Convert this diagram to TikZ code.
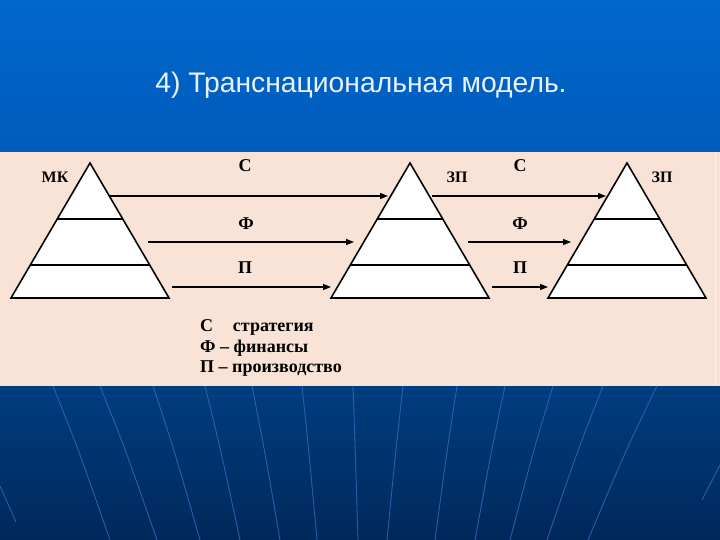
\documentclass[tikz,border=0pt]{standalone}
\usepackage{fontspec}
\setmainfont{Liberation Serif}
\newfontfamily\titlefont{Liberation Sans}
\usetikzlibrary{arrows.meta,calc}
\definecolor{topblue}{HTML}{0067CC}
\definecolor{topblue2}{HTML}{005CBC}
\definecolor{navy1}{HTML}{003D7F}
\definecolor{navy2}{HTML}{00285A}
\definecolor{peach}{HTML}{F9E3D6}
\definecolor{fanline}{HTML}{2F6CC0}
\definecolor{titlecol}{HTML}{E8F2FF}
\tikzset{
  pyr/.style={draw=black, fill=white, line width=1.6pt, line join=miter},
  tier/.style={draw=black, line width=1.6pt},
  flow/.style={draw=black, line width=1.3pt, -{Triangle[length=8pt,width=6pt]}},
  lbl/.style={font=\fontsize{18}{20}\selectfont\bfseries, inner sep=0pt},
  tag/.style={font=\fontsize{16}{18}\selectfont\bfseries, inner sep=0pt},
  legend/.style={font=\fontsize{18}{21}\selectfont\bfseries, inner sep=0pt, anchor=west},
  fan/.style={draw=fanline, line width=0.9pt, opacity=0.8}
}
\begin{document}
\begin{tikzpicture}[x=1pt,y=-1pt]
\useasboundingbox (0,0) rectangle (720,540);
% backgrounds
\shade[top color=topblue, bottom color=topblue2] (0,0) rectangle (720,152);
\shade[top color=navy1, bottom color=navy2] (0,386) rectangle (720,540);
\fill[peach] (0,152) rectangle (720,386);
\draw[white, opacity=0.6, line width=1pt] (715,152) -- (715,386);
% fan lines
\foreach \a/\b in {53/110,100/157,153/200,205/240,252/280,302/317,353/358,403/387,457/435,505/475,553/510,603/547,657/588}{
  \draw[fan] (\a,386) .. controls ({0.55*\a+0.45*\b},450) .. (\b,540);
}
\draw[fan] (0,486) -- (16,522);
\draw[fan] (720,465) -- (702,500);
% title
\node[text=titlecol, font=\titlefont\fontsize{28.3}{30}\selectfont, anchor=base] (title) at (361,93) {4) Транснациональная модель.};
% pyramids
\foreach \n/\cx in {1/90,2/410,3/627}{
  \draw[pyr] (\cx,163) -- (\cx+79,298) -- (\cx-79,298) -- cycle;
  \draw[tier] (\cx-32.8,219) -- (\cx+32.8,219);
  \draw[tier] (\cx-59.7,265) -- (\cx+59.7,265);
}
% arrow end points
\coordinate (s1) at (110,196); \coordinate (e1) at (388,196);
\coordinate (s2) at (148,242); \coordinate (e2) at (354,242);
\coordinate (s3) at (172,287); \coordinate (e3) at (331,287);
\coordinate (s4) at (432,196); \coordinate (e4) at (606,196);
\coordinate (s5) at (468,242); \coordinate (e5) at (571,242);
\coordinate (s6) at (492,287); \coordinate (e6) at (548,287);
\foreach \i in {1,...,6}{ \draw[flow] (s\i) -- (e\i); }
% labels
\node[tag] (mk) at (55,177) {МК};
\node[tag] (zp1) at (457,177) {ЗП};
\node[tag] (zp2) at (662,177) {ЗП};
\node[lbl] (c1) at (245,166) {С};
\node[lbl] (f1) at (246,224) {Ф};
\node[lbl] (p1) at (245,268) {П};
\node[lbl] (c2) at (520,166) {С};
\node[lbl] (f2) at (520,224) {Ф};
\node[lbl] (p2) at (520,268) {П};
% legend
\node[legend] (lg1) at (200,327) {С\hspace{1.1em}стратегия};
\node[legend] (lg2) at (200,348) {Ф – финансы};
\node[legend] (lg3) at (200,369) {П – производство};
\end{tikzpicture}
\end{document}
